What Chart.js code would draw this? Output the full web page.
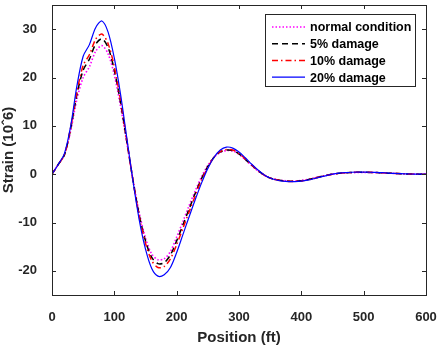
<!DOCTYPE html>
<html>
<head>
<meta charset="utf-8">
<script src="https://cdn.jsdelivr.net/npm/chart.js@4"></script>
<style>
  html, body { margin: 0; padding: 0; background: #fff; }
  #wrap { width: 438px; height: 347px; position: relative; }
</style>
</head>
<body>
<div id="wrap"><canvas id="strainChart"></canvas></div>
<script>
const positions = [0, 10, 20, 30, 40, 50, 60, 70, 80, 90, 100, 110, 120, 130, 140, 150, 160, 170, 180, 190,
  200, 210, 220, 230, 240, 250, 260, 270, 280, 290, 300, 310, 320, 330, 340, 350, 360, 370, 380, 390,
  400, 410, 420, 430, 440, 450, 460, 470, 480, 490, 500, 510, 520, 530, 540, 550, 560, 570, 580, 590, 600];

const normalCondition = [0, 2.0, 4.0, 9.0, 15.5, 20.0, 22.2, 25.4, 26.6, 24.9, 20.5, 14.0, 6.5, -1.2, -8.0, -13.2, -16.5, -17.7, -17.5, -16.0,
  -13.0, -9.8, -6.5, -3.4, -0.5, 1.8, 3.5, 4.5, 4.9, 4.8, 4.1, 3.0, 1.8, 0.7, -0.2, -0.8, -1.1, -1.3, -1.4, -1.4,
  -1.3, -1.1, -0.8, -0.5, -0.25, 0, 0.15, 0.25, 0.3, 0.35, 0.35, 0.35, 0.3, 0.25, 0.2, 0.15, 0.1, 0.05, 0.02, 0, 0];

const damage5 = [0, 2.0, 4.0, 9.5, 16.5, 21.5, 23.8, 26.9, 28.0, 26.2, 21.5, 14.8, 6.8, -1.3, -8.5, -13.8, -17.2, -18.5, -18.3, -16.7,
  -13.8, -10.5, -7.2, -3.9, -0.9, 1.6, 3.5, 4.6, 5.0, 4.9, 4.2, 3.1, 1.9, 0.8, -0.15, -0.8, -1.15, -1.35, -1.45, -1.45,
  -1.35, -1.15, -0.85, -0.55, -0.27, 0, 0.17, 0.28, 0.34, 0.38, 0.38, 0.37, 0.32, 0.27, 0.2, 0.15, 0.1, 0.05, 0.02, 0, 0];

const damage10 = [0, 2.0, 4.0, 9.7, 17.0, 22.5, 24.7, 27.9, 29.0, 27.0, 22.2, 15.3, 7.0, -1.4, -8.8, -14.3, -17.9, -19.3, -19.1, -17.5,
  -14.6, -11.2, -7.8, -4.4, -1.2, 1.4, 3.5, 4.7, 5.1, 5.0, 4.3, 3.2, 2.0, 0.8, -0.15, -0.8, -1.15, -1.4, -1.5, -1.5,
  -1.4, -1.2, -0.9, -0.57, -0.28, 0, 0.18, 0.3, 0.37, 0.4, 0.4, 0.38, 0.34, 0.28, 0.21, 0.15, 0.1, 0.05, 0.02, 0, 0];

const damage20 = [0, 2.0, 4.3, 10.0, 18.3, 24.4, 26.8, 30.3, 31.7, 29.4, 24.0, 16.5, 7.5, -1.5, -9.5, -15.5, -19.5, -21.1, -20.8, -19.3,
  -16.2, -12.5, -8.8, -5.2, -1.8, 1.2, 3.5, 5.0, 5.6, 5.4, 4.6, 3.4, 2.1, 0.9, -0.1, -0.8, -1.2, -1.45, -1.55, -1.55,
  -1.45, -1.25, -0.95, -0.6, -0.3, 0, 0.2, 0.32, 0.4, 0.42, 0.42, 0.4, 0.36, 0.3, 0.22, 0.15, 0.1, 0.05, 0.02, 0, 0];

const seriesLabels = ["normal condition", "5% damage", "10% damage", "20% damage"];
const xTicks = [0, 100, 200, 300, 400, 500, 600];
const yTicks = [-20, -10, 0, 10, 20, 30];

const axisColor = "#262626";
const fontFamily = "'Liberation Sans', Arial, sans-serif";

function toPoints(values) {
  return positions.map((p, i) => ({ x: p, y: values[i] }));
}

// box around the plot with inward ticks on every side, MATLAB style
const boxTicks = {
  id: "boxTicks",
  afterDraw(chart) {
    const { ctx, chartArea: a, scales } = chart;
    ctx.save();
    ctx.strokeStyle = axisColor;
    ctx.lineWidth = 1;
    ctx.strokeRect(a.left + 0.5, a.top + 0.5, a.right - a.left, a.bottom - a.top);
    const len = 4;
    ctx.beginPath();
    xTicks.forEach((t) => {
      const px = Math.round(scales.x.getPixelForValue(t)) + 0.5;
      ctx.moveTo(px, a.bottom); ctx.lineTo(px, a.bottom - len);
      ctx.moveTo(px, a.top); ctx.lineTo(px, a.top + len);
    });
    yTicks.forEach((t) => {
      const py = Math.round(scales.y.getPixelForValue(t)) + 0.5;
      ctx.moveTo(a.left, py); ctx.lineTo(a.left + len, py);
      ctx.moveTo(a.right, py); ctx.lineTo(a.right - len, py);
    });
    ctx.stroke();
    ctx.restore();
  },
};

// legend drawn in a framed box at top right
const boxLegend = {
  id: "boxLegend",
  afterDraw(chart) {
    const { ctx } = chart;
    const bx = 265, by = 14, bw = 150, bh = 72;
    ctx.save();
    ctx.fillStyle = "#fff";
    ctx.fillRect(bx, by, bw, bh);
    ctx.strokeStyle = axisColor;
    ctx.lineWidth = 1;
    ctx.strokeRect(bx + 0.5, by + 0.5, bw, bh);
    ctx.font = "bold 12.5px " + fontFamily;
    ctx.textBaseline = "middle";
    chart.data.datasets.forEach((ds, i) => {
      const y = by + 13 + i * 16.7;
      ctx.strokeStyle = ds.borderColor;
      ctx.lineWidth = ds.borderWidth;
      ctx.setLineDash(ds.borderDash || []);
      ctx.beginPath();
      ctx.moveTo(bx + 7, y);
      ctx.lineTo(bx + 40, y);
      ctx.stroke();
      ctx.setLineDash([]);
      ctx.fillStyle = "#000";
      ctx.fillText(ds.label, bx + 45, y + 1);
    });
    ctx.restore();
  },
};

function noScalePadding(scale) {
  scale.paddingTop = 0;
  scale.paddingBottom = 0;
  scale.paddingLeft = 0;
  scale.paddingRight = 0;
}

const ctx = document.getElementById("strainChart").getContext("2d");
new Chart(ctx, {
  type: "line",
  data: {
    datasets: [
      {
        label: seriesLabels[0],
        data: toPoints(normalCondition),
        borderColor: "#ff00ff",
        borderWidth: 1.6,
        borderDash: [1.5, 2],
        order: 4,
      },
      {
        label: seriesLabels[1],
        data: toPoints(damage5),
        borderColor: "#000000",
        borderWidth: 1.5,
        borderDash: [6, 4],
        order: 3,
      },
      {
        label: seriesLabels[2],
        data: toPoints(damage10),
        borderColor: "#ff0000",
        borderWidth: 1.5,
        borderDash: [6, 3, 1.5, 3],
        order: 2,
      },
      {
        label: seriesLabels[3],
        data: toPoints(damage20),
        borderColor: "#0000ff",
        borderWidth: 1.2,
        order: 1,
      },
    ],
  },
  options: {
    responsive: true,
    maintainAspectRatio: false,
    animation: false,
    layout: { padding: { top: 5, right: 12, left: 0, bottom: 0 } },
    elements: {
      point: { radius: 0 },
      line: { tension: 0.3, fill: false },
    },
    plugins: {
      legend: { display: false },
      tooltip: { enabled: false },
    },
    scales: {
      x: {
        type: "linear",
        min: 0,
        max: 600,
        afterBuildTicks: (scale) => { scale.ticks = xTicks.map((v) => ({ value: v })); },
        afterFit: (scale) => { scale.height = 52; noScalePadding(scale); },
        grid: { display: false },
        border: { display: false },
        ticks: {
          color: axisColor,
          padding: 7,
          maxRotation: 0,
          font: { family: fontFamily, size: 13, weight: "bold" },
        },
        title: {
          display: true,
          text: "Position (ft)",
          color: axisColor,
          padding: { top: 1, bottom: 0 },
          font: { family: fontFamily, size: 15, weight: "bold" },
        },
      },
      y: {
        min: -25,
        max: 35,
        afterBuildTicks: (scale) => { scale.ticks = yTicks.map((v) => ({ value: v })); },
        afterFit: (scale) => { scale.width = 52; noScalePadding(scale); },
        grid: { display: false },
        border: { display: false },
        ticks: {
          color: axisColor,
          padding: 7,
          font: { family: fontFamily, size: 13, weight: "bold" },
        },
        title: {
          display: true,
          text: "Strain (10ˆ6)",
          color: axisColor,
          padding: { top: 0, bottom: 2 },
          font: { family: fontFamily, size: 15, weight: "bold" },
        },
      },
    },
  },
  plugins: [boxTicks, boxLegend],
});
</script>
</body>
</html>
